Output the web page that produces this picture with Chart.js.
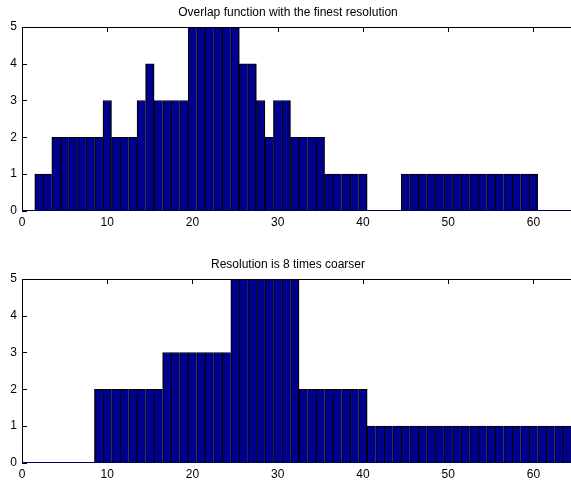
<!DOCTYPE html>
<html>
<head>
<meta charset="utf-8">
<script src="https://cdn.jsdelivr.net/npm/chart.js@4/dist/chart.umd.min.js"></script>
<style>
html, body { margin: 0; padding: 0; background: #fff; overflow: hidden; width: 571px; height: 481px; }
canvas { position: absolute; left: 0; }
#fineChart { top: 0; }
#coarseChart { top: 240px; }
</style>
</head>
<body>
<canvas id="fineChart" width="576" height="240"></canvas>
<canvas id="coarseChart" width="576" height="241"></canvas>
<script>
// bin centres shared by both histograms
let binCenters = [1, 2, 3, 4, 5, 6, 7, 8, 9, 10, 11, 12, 13, 14, 15, 16,
    17, 18, 19, 20, 21, 22, 23, 24, 25, 26, 27, 28, 29, 30, 31, 32,
    33, 34, 35, 36, 37, 38, 39, 40, 41, 42, 43, 44, 45, 46, 47, 48,
    49, 50, 51, 52, 53, 54, 55, 56, 57, 58, 59, 60, 61, 62, 63, 64];

let fineCounts = [0, 1, 1, 2, 2, 2, 2, 2, 2, 3, 2, 2, 2, 3, 4, 3,
    3, 3, 3, 5, 5, 5, 5, 5, 5, 4, 4, 3, 2, 3, 3, 2,
    2, 2, 2, 1, 1, 1, 1, 1, 0, 0, 0, 0, 1, 1, 1, 1,
    1, 1, 1, 1, 1, 1, 1, 1, 1, 1, 1, 1, 0, 0, 0, 0];

let coarseCounts = [0, 0, 0, 0, 0, 0, 0, 0, 2, 2, 2, 2, 2, 2, 2, 2,
    3, 3, 3, 3, 3, 3, 3, 3, 5, 5, 5, 5, 5, 5, 5, 5,
    2, 2, 2, 2, 2, 2, 2, 2, 1, 1, 1, 1, 1, 1, 1, 1,
    1, 1, 1, 1, 1, 1, 1, 1, 1, 1, 1, 1, 1, 1, 1, 1];

let xTicks = [0, 10, 20, 30, 40, 50, 60];
let yTicks = [0, 1, 2, 3, 4, 5];

const fontFamily = '"Liberation Sans", Arial, Helvetica, sans-serif';

// matlab style box with inward ticks
const matlabBox = {
    id: 'matlabBox',
    beforeDatasetsDraw(chart) {
        const ctx = chart.ctx, a = chart.chartArea, x = chart.scales.x, y = chart.scales.y;
        ctx.save();
        ctx.strokeStyle = '#000';
        ctx.lineWidth = 1;
        ctx.beginPath();
        xTicks.forEach(v => {
            const px = Math.round(x.getPixelForValue(v)) + 0.5;
            ctx.moveTo(px, a.top); ctx.lineTo(px, a.top + 5);
            ctx.moveTo(px, a.bottom); ctx.lineTo(px, a.bottom - 5);
        });
        yTicks.forEach(v => {
            const py = Math.round(y.getPixelForValue(v)) + 0.5;
            ctx.moveTo(a.left, py); ctx.lineTo(a.left + 5, py);
            ctx.moveTo(a.right, py); ctx.lineTo(a.right - 5, py);
        });
        ctx.stroke();
        ctx.restore();
    },
    afterDatasetsDraw(chart) {
        const ctx = chart.ctx, a = chart.chartArea;
        const l = Math.round(a.left) + 0.5, r = Math.round(a.right) - 0.5;
        const t = Math.round(a.top) + 0.5, b = Math.round(a.bottom) - 0.5;
        ctx.save();
        ctx.lineWidth = 1;
        ctx.strokeStyle = '#000';
        ctx.beginPath();
        ctx.moveTo(l, b); ctx.lineTo(l, t); ctx.lineTo(r, t); ctx.lineTo(r, b);
        ctx.stroke();
        ctx.strokeStyle = '#00005a';
        ctx.beginPath();
        ctx.moveTo(l, b); ctx.lineTo(r, b);
        ctx.stroke();
        ctx.restore();
    }
};

function makeHist(canvasId, title, counts, titlePad, xAxisHeight) {
    let ctx = document.getElementById(canvasId).getContext('2d');
    return new Chart(ctx, {
        type: 'bar',
        data: {
            datasets: [{
                data: binCenters.map((c, i) => ({ x: c, y: counts[i] })),
                backgroundColor: '#00008f',
                borderColor: '#000',
                borderWidth: function(c) {
                    let i = c.dataIndex;
                    let next = i + 1 < counts.length ? counts[i + 1] : 0;
                    return { left: 1.3, top: 1, bottom: 0, right: next < counts[i] ? 1.3 : 0 };
                },
                borderSkipped: false,
                barPercentage: 1,
                categoryPercentage: 1
            }]
        },
        options: {
            responsive: false,
            animation: false,
            layout: { padding: 0 },
            plugins: {
                legend: { display: false },
                tooltip: { enabled: false },
                title: {
                    display: true,
                    text: title,
                    color: '#000',
                    font: { family: fontFamily, size: 12, weight: 'normal' },
                    padding: titlePad
                }
            },
            scales: {
                x: {
                    type: 'linear',
                    min: 0,
                    max: 65,
                    offset: false,
                    grid: { display: false, drawTicks: false, tickLength: 0 },
                    border: { display: false },
                    afterBuildTicks: s => { s.ticks = xTicks.map(v => ({ value: v })); },
                    afterFit: s => { s.height = xAxisHeight; },
                    ticks: {
                        color: '#000',
                        padding: 4.5,
                        maxRotation: 0,
                        font: { family: fontFamily, size: 12 }
                    }
                },
                y: {
                    min: 0,
                    max: 5,
                    grid: { display: false, drawTicks: false, tickLength: 0 },
                    border: { display: false },
                    afterBuildTicks: s => { s.ticks = yTicks.map(v => ({ value: v })); },
                    afterFit: s => { s.width = 22; },
                    ticks: {
                        color: '#000',
                        padding: 5,
                        font: { family: fontFamily, size: 12 }
                    }
                }
            }
        },
        plugins: [matlabBox]
    });
}

document.addEventListener("DOMContentLoaded", function() {
    makeHist('fineChart', 'Overlap function with the finest resolution', fineCounts,
        { top: 5.8, bottom: 6.8 }, 29.3);
    makeHist('coarseChart', 'Resolution is 8 times coarser', coarseCounts,
        { top: 17, bottom: 7.6 }, 18.3);
});
</script>
</body>
</html>
